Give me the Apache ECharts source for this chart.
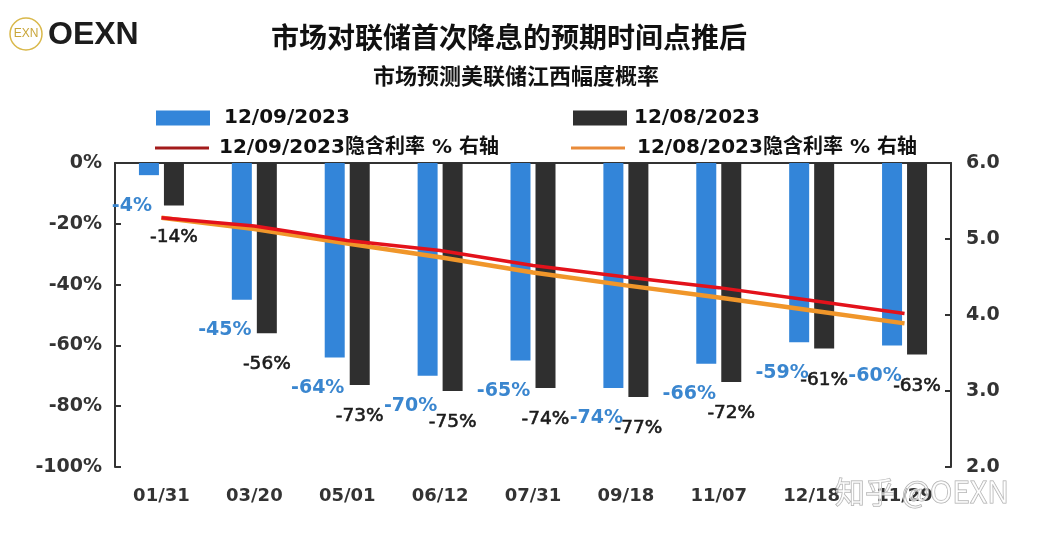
<!DOCTYPE html>
<html>
<head>
<meta charset="utf-8">
<script src="https://cdn.jsdelivr.net/npm/echarts@6/dist/echarts.min.js"></script>
<style>html,body{margin:0;padding:0;background:#fff;}#c{width:1042px;height:535px;}</style>
</head>
<body>
<div id="c"></div>
<script>
var categories = ['01/31','03/20','05/01','06/12','07/31','09/18','11/07','12/18','11/29'];
var prob1209 = [-4,-45,-64,-70,-65,-74,-66,-59,-60];
var prob1208 = [-14,-56,-73,-75,-74,-77,-72,-61,-63];
var rate1209 = [5.28,5.17,4.98,4.85,4.65,4.50,4.36,4.19,4.02];
var rate1208 = [5.28,5.13,4.94,4.76,4.56,4.39,4.23,4.06,3.89];
var leftTicks = [-100,-80,-60,-40,-20,0];
var rightTicks = [2,3,4,5,6];

var FONT = '"DejaVu Sans","Noto Sans CJK SC",sans-serif';
var CJK = '"Noto Sans CJK SC",sans-serif';
var BLUE = '#3385d9', DARK = '#2f2f2f', RED = '#e3121b', ORANGE = '#f0962a';
var chart = echarts.init(document.getElementById('c'));

function legend(name, left, top, pad, h, color) {
  return {
    data: [{name: name, icon: 'rect', itemStyle: {color: color}}], left: left, top: top, itemWidth: 54, itemHeight: h,
    selectedMode: false,
    textStyle: {fontFamily: FONT, fontSize: 20, fontWeight: 'bold', color: '#111', padding: [0,0,0,pad], lineHeight: 22}
  };
}

chart.setOption({
  animation: false,
  backgroundColor: '#fff',
  grid: {left: 115, right: 91, top: 163, bottom: 68},
  legend: [
    legend('12/09/2023', 151, 102, 9, 15, BLUE),
    legend('12/08/2023', 568, 102, 2, 15, DARK),
    legend('12/09/2023隐含利率 % 右轴', 150, 132, 5, 3, '#a31b1b'),
    legend('12/08/2023隐含利率 % 右轴', 566, 132, 7, 3, '#e98b3a')
  ],
  graphic: [
    {type:'text', x:509, y:37, style:{text:'市场对联储首次降息的预期时间点推后', font:'bold 28px '+CJK, fill:'#111', align:'center', verticalAlign:'middle'}},
    {type:'text', x:516, y:76, style:{text:'市场预测美联储江西幅度概率', font:'bold 22px '+CJK, fill:'#111', align:'center', verticalAlign:'middle'}},
    {type:'circle', shape:{cx:26, cy:34, r:16}, style:{fill:'none', stroke:'#d9b84a', lineWidth:1.5}},
    {type:'text', x:26, y:34, style:{text:'EXN', font:'12px "Liberation Sans"', fill:'#c9a63a', align:'center', verticalAlign:'middle'}},
    {type:'text', x:48, y:35, style:{text:'OEXN', font:'bold 32px "Liberation Sans"', fill:'#1c1c1c', verticalAlign:'middle'}},
    {type:'text', x:835, y:492, z:100, style:{text:'知乎 @OEXN', font:'30px '+CJK, fill:'rgba(255,255,255,0.6)', stroke:'#a8a8a8', lineWidth:1, verticalAlign:'middle'}}
  ],
  xAxis: [
    {type:'category', data: categories, position:'bottom',
     axisLine:{show:false, onZero:false}, axisTick:{show:false},
     axisLabel:{fontFamily:FONT, fontSize:18, fontWeight:'bold', color:'#333', margin:20}},
    {type:'category', data: categories, position:'top',
     axisLine:{show:true, onZero:false, lineStyle:{color:'#333', width:2}}, axisTick:{show:false}, axisLabel:{show:false}}
  ],
  yAxis: [
    {type:'value', min: leftTicks[0], max: leftTicks[leftTicks.length-1], interval: 20, splitLine:{show:false},
     axisLine:{show:true, lineStyle:{color:'#333', width:2}},
     axisTick:{show:true, inside:true, length:6, lineStyle:{color:'#333', width:2}},
     axisLabel:{formatter:'{value}%', fontFamily:FONT, fontSize:19, fontWeight:'bold', color:'#333', margin:13}},
    {type:'value', min: rightTicks[0], max: rightTicks[rightTicks.length-1], interval: 1, splitLine:{show:false},
     axisLine:{show:true, lineStyle:{color:'#333', width:2}},
     axisTick:{show:true, inside:true, length:6, lineStyle:{color:'#333', width:2}},
     axisLabel:{formatter:function(v){return v.toFixed(1);}, fontFamily:FONT, fontSize:19, fontWeight:'bold', color:'#333', margin:15}}
  ],
  series: [
    {name:'12/09/2023', type:'bar', data: prob1209, barWidth:20, barGap:'25%', itemStyle:{color:BLUE},
     label:{show:true, position:'bottom', distance:21, offset:[-17,0], formatter:'{c}%', fontFamily:FONT, fontSize:19, fontWeight:'bold', color:'#3a86cf'}},
    {name:'12/08/2023', type:'bar', data: prob1208, barWidth:20, barGap:'25%', itemStyle:{color:DARK},
     label:{show:true, position:'bottom', distance:22, formatter:'{c}%', fontFamily:FONT, fontSize:18.5, fontWeight:'normal', color:'#1a1a1a', textBorderColor:'#1a1a1a', textBorderWidth:0.6}},
    {name:'12/08/2023隐含利率 % 右轴', type:'line', yAxisIndex:1, data: rate1208, symbol:'none', z:5,
     lineStyle:{color:ORANGE, width:4.5}, itemStyle:{color:'#e98b3a'}},
    {name:'12/09/2023隐含利率 % 右轴', type:'line', yAxisIndex:1, data: rate1209, symbol:'none', z:6,
     lineStyle:{color:RED, width:3.5}, itemStyle:{color:'#a01c1c'}}
  ]
});
</script>
</body>
</html>
